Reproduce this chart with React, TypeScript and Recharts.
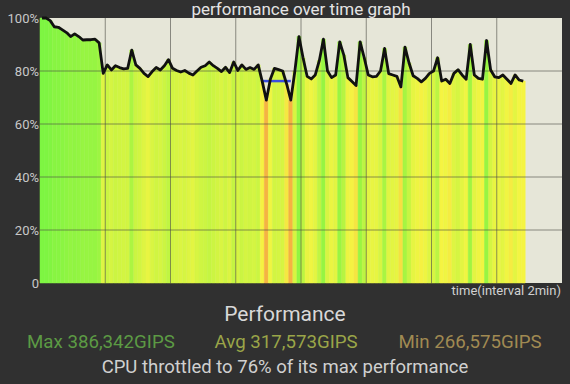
import { ComposedChart, Bar, Cell, Line, XAxis, YAxis, CartesianGrid, ReferenceLine } from 'recharts'

// performance per sample, % of max
const PERF = [
  100, 100, 99, 96.7, 96.5, 95.5, 94.5, 93, 94, 93, 91.7, 91.8, 91.8, 92, 90.6,
  79.1, 82.3, 80.4, 82, 81.3, 80.8, 81, 87.9, 82.3, 81, 79.1, 77.9, 79.8, 81.3, 80.4,
  82, 84.3, 81, 80.2, 79.6, 80.2, 79.2, 78.5, 80, 81.4, 82, 83.4, 82, 81, 79.8,
  81.4, 79.4, 83.4, 80.2, 82.3, 80.6, 81.3, 80.6, 82.3, 76, 69, 77, 81, 80.5, 80,
  75, 69, 80, 93, 85, 78, 77, 78.5, 84, 92, 80, 77.5, 78.5, 91, 86,
  77.5, 76, 74.5, 91, 85, 78.5, 77.8, 78, 80, 88.5, 79, 78.5, 78, 74, 89,
  83, 78.2, 77.2, 75.9, 77.2, 79.1, 80, 85, 76.2, 76.9, 75.3, 79.1, 80.5, 78.5, 76.9,
  90, 78.5, 77.2, 76.9, 91.5, 80.4, 77.8, 77.5, 78.5, 76.9, 75.3, 78.5, 76.6, 76.2,
]

const SLOTS = 128 // 8 x 2min, 16 samples each
const TIME_TICKS = [16, 32, 48, 64, 80, 96, 112]
const Y_TICKS = [0, 20, 40, 60, 80, 100]
const THROTTLE_FROM = 54
const THROTTLE_TO = 61
const THROTTLE_LEVEL = 76.2

const STATS = [
  { label: 'Max 386,342GIPS', color: '#5c9a44', left: 27 },
  { label: 'Avg 317,573GIPS', color: '#9aa548', left: 214.5 },
  { label: 'Min 266,575GIPS', color: '#a08a52', left: 398.5 },
]

// value -> hue
const HUE_STOPS: [number, number][] = [[69, 38], [77, 62], [80, 70], [92, 92], [100, 100]]

function barColor(v: number) {
  let h = HUE_STOPS[0][1]
  for (let i = 1; i < HUE_STOPS.length; i++) {
    const [v0, h0] = HUE_STOPS[i - 1]
    const [v1, h1] = HUE_STOPS[i]
    if (v >= v0) h = v >= v1 ? h1 : h0 + ((v - v0) / (v1 - v0)) * (h1 - h0)
  }
  return `hsl(${h.toFixed(1)}, 90%, 61%)`
}

const data = Array.from({ length: SLOTS }, (_, i) => ({
  slot: i,
  perf: i < PERF.length ? PERF[i] : null,
  throttle: i >= THROTTLE_FROM && i <= THROTTLE_TO ? THROTTLE_LEVEL : null,
}))

const font = 'Roboto, "Noto Sans", sans-serif'

export default function App() {
  return (
    <div style={{ position: 'absolute', left: 0, top: 0, width: 570, height: 384, background: '#303030', fontFamily: font, overflow: 'hidden' }}>
      <ComposedChart width={570} height={300} data={data} margin={{ top: 18, right: 8, bottom: 17, left: 0 }} barCategoryGap={0} barGap={0}>
        <CartesianGrid fill="#e6e6d8" stroke="none" horizontal={false} vertical={false} />
        <XAxis dataKey="slot" hide />
        <YAxis
          domain={[0, 100]}
          ticks={Y_TICKS}
          interval={0}
          width={40}
          axisLine={false}
          tickLine={false}
          tickSize={0}
          tickMargin={1}
          tickFormatter={(v: number) => (v === 0 ? '0' : `${v}%`)}
          tick={{ fill: '#c8c8c8', fontSize: 13, fontFamily: font }}
        />
        <Bar dataKey="perf" isAnimationActive={false}>
          {data.map((d) => (
            <Cell key={d.slot} fill={d.perf == null ? 'none' : barColor(d.perf)} stroke={d.perf == null ? 'none' : barColor(d.perf)} strokeWidth={0.5} />
          ))}
        </Bar>
        {Y_TICKS.filter((v) => v > 0 && v < 100).map((v) => (
          <ReferenceLine key={`y${v}`} y={v} stroke="#4a4a44" strokeOpacity={0.6} />
        ))}
        {TIME_TICKS.map((t) => (
          <ReferenceLine key={`x${t}`} x={t} position="start" stroke="#4a4a44" strokeOpacity={0.6} />
        ))}
        <Line dataKey="throttle" stroke="#3a4ee0" strokeWidth={2.5} dot={false} isAnimationActive={false} connectNulls={false} />
        <Line dataKey="perf" stroke="#111" strokeWidth={2.8} strokeLinejoin="round" dot={false} isAnimationActive={false} />
      </ComposedChart>
      <svg width={570} height={384} style={{ position: 'absolute', left: 0, top: 0, pointerEvents: 'none' }} fontFamily={font}>
        <text x={301} y={14.5} textAnchor="middle" fontSize={17} fill="#e4e4e4">performance over time graph</text>
        <text x={561} y={295} textAnchor="end" fontSize={13} fill="#d0d0d0">time(interval 2min)</text>
        <text x={285} y={321} textAnchor="middle" fontSize={21} fill="#d8d8d8">Performance</text>
        {STATS.map((s) => (
          <text key={s.label} x={s.left} y={348} fontSize={18.7} fill={s.color}>{s.label}</text>
        ))}
        <text x={285} y={373} textAnchor="middle" fontSize={18.5} fill="#d0d0d0">CPU throttled to 76% of its max performance</text>
      </svg>
    </div>
  )
}
